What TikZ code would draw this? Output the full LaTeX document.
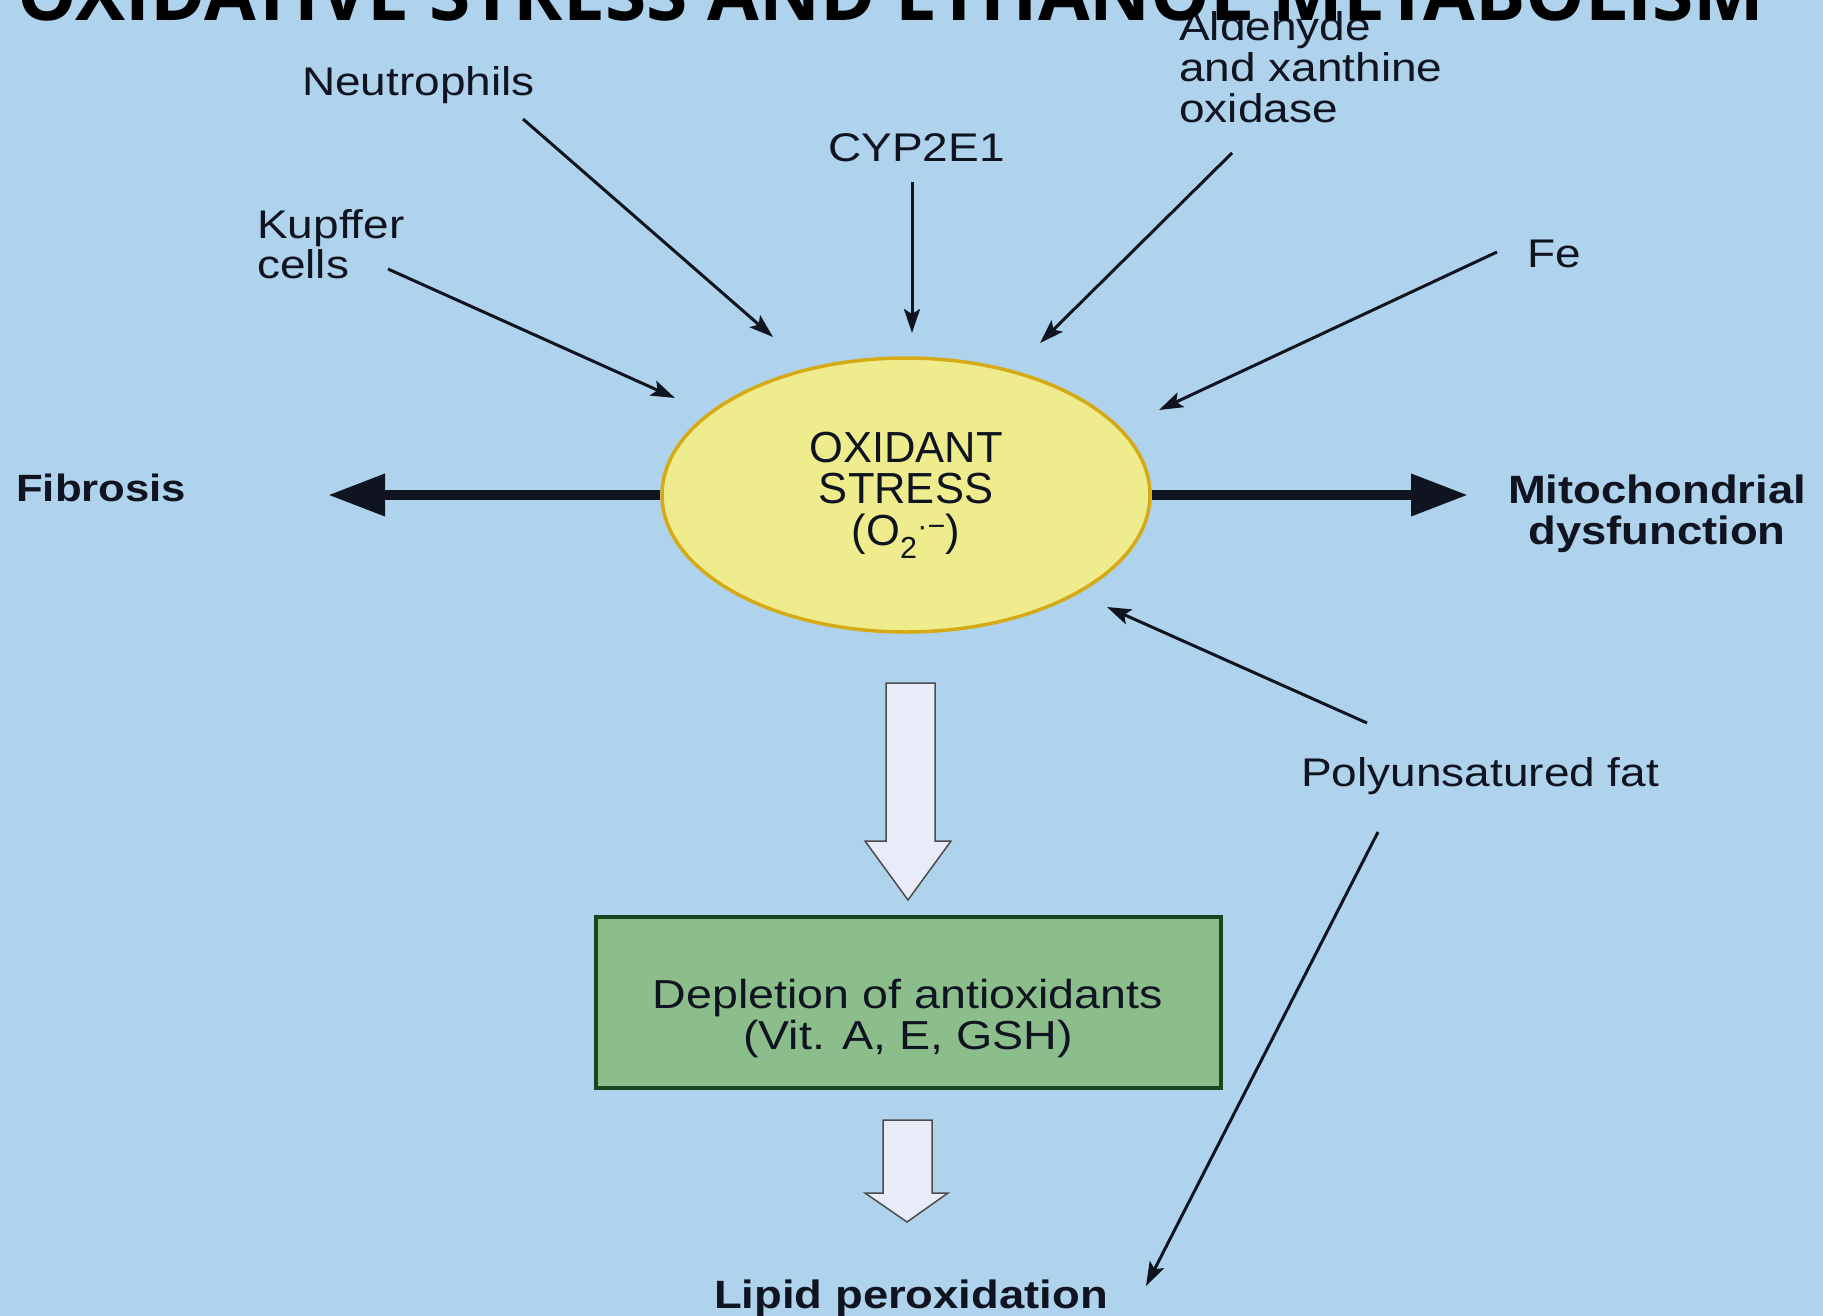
\documentclass[tikz,border=0pt]{standalone}
\usepackage{fontspec}
\setmainfont{Liberation Sans}
\newfontfamily\labfont[FakeStretch=1.15]{Liberation Sans}
\newfontfamily\titlefont{Open Sans}
\usetikzlibrary{arrows.meta,shapes.geometric}
\definecolor{bg}{RGB}{176,211,237}
\definecolor{ellfill}{RGB}{238,236,140}
\definecolor{elldraw}{RGB}{214,170,20}
\definecolor{boxfill}{RGB}{140,190,140}
\definecolor{boxdraw}{RGB}{25,70,30}
\definecolor{hollow}{RGB}{232,236,248}
\definecolor{ink}{RGB}{16,20,32}
\begin{document}
\begin{tikzpicture}[x=1pt,y=-1pt,
  lab/.style={inner sep=0pt, text=ink, font=\labfont\fontsize{40}{40}\selectfont},
  boldlab/.style={inner sep=0pt, text=ink, font=\labfont\bfseries\fontsize{39.5}{41}\selectfont},
  thinarrow/.style={draw=ink, line width=3pt, -{Stealth[length=24pt,width=16pt,inset=5pt]}},
  thickarrow/.style={draw=ink, line width=10pt, -{Triangle[length=57pt,width=40pt]}},
  hollowarrow/.style={fill=hollow, draw=black!70, line width=1.5pt, line join=miter},
]
\useasboundingbox (0,0) rectangle (1823,1316);
\clip (0,0) rectangle (1823,1316);
\fill[bg] (0,0) rectangle (1823,1316);

% central ellipse
\node[ellipse, draw=elldraw, fill=ellfill, line width=3.5pt, minimum width=488pt, minimum height=274pt,
      inner sep=0pt, align=center, text=ink, font=\fontsize{43.5}{41.5}\selectfont] (ox) at (906,495)
      {OXIDANT\\STRESS\\(O\textsubscript{2}\textsuperscript{·−})};

% labels
\node[lab, anchor=base west] (neut) at (302,96) {Neutrophils};
\node[lab, anchor=base west] (kup) at (257,238) {\begin{tabular}[t]{@{}l@{}}Kupffer\\cells\end{tabular}};
\node[lab, anchor=base west] (cyp) at (828,162) {CYP2E1};
\node[lab, anchor=base west] (ald) at (1179,41) {\begin{tabular}[t]{@{}l@{}}Aldehyde\\and xanthine\\oxidase\end{tabular}};
\node[lab, anchor=base west] (fe) at (1527,267) {Fe};
\node[lab, anchor=base west] (puf) at (1301,786) {Polyunsatured fat};
\node[boldlab, anchor=base west, font=\labfont\bfseries\fontsize{38}{41}\selectfont] (fib) at (16,501) {Fibrosis};
\node[boldlab, anchor=base] (mito) at (1657,503) {\begin{tabular}[t]{@{}c@{}}Mitochondrial\\dysfunction\end{tabular}};
\node[boldlab, anchor=base] (lipid) at (911,1308) {Lipid peroxidation};

% depletion box
\node[draw=boxdraw, fill=boxfill, line width=4pt, minimum width=625pt, minimum height=171pt, inner sep=0pt] (depl) at (908.5,1002.5) {};
\node[inner sep=0pt, text=ink, anchor=base, font=\labfont\fontsize{40.5}{40}\selectfont] (deplt) at (908,1008)
  {\begin{tabular}[t]{@{}c@{}}Depletion of antioxidants\\(Vit. A, E, GSH)\end{tabular}};

% hollow arrows
\draw[hollowarrow] (886,683) -- (935,683) -- (935,841) -- (951,841) -- (908,900) -- (865,841) -- (886,841) -- cycle;
\draw[hollowarrow] (883,1120) -- (932,1120) -- (932,1193) -- (948,1193) -- (907,1222) -- (865,1193) -- (883,1193) -- cycle;

% thick arrows
\coordinate (fibtip) at (328,495);
\coordinate (mitotip) at (1468,495);
\draw[thickarrow] (ox.west) -- (fibtip);
\draw[thickarrow] (ox.east) -- (mitotip);

% thin arrows
\coordinate (neutS) at (523,119);  \coordinate (neutT) at (773,337);
\coordinate (kupS) at (388,269);   \coordinate (kupT) at (675,398);
\coordinate (cypS) at (912,182);   \coordinate (cypT) at (912,333);
\coordinate (aldS) at (1232,153);  \coordinate (aldT) at (1040,343);
\coordinate (feS) at (1497,252);   \coordinate (feT) at (1159,410);
\coordinate (pufA) at (1367,723);  \coordinate (pufAT) at (1107,607);
\coordinate (pufB) at (1378,832);  \coordinate (pufBT) at (1146,1286);
\draw[thinarrow] (neutS) -- (neutT);
\draw[thinarrow] (kupS) -- (kupT);
\draw[thinarrow] (cypS) -- (cypT);
\draw[thinarrow] (aldS) -- (aldT);
\draw[thinarrow] (feS) -- (feT);
\draw[thinarrow] (pufA) -- (pufAT);
\draw[thinarrow] (pufB) -- (pufBT);

% title
\node[anchor=base west, inner sep=0pt, text=black, font=\titlefont\bfseries\fontsize{75}{75}\selectfont] (title) at (17,21)
  {OXIDATIVE STRESS AND ETHANOL METABOLISM};
\end{tikzpicture}
\end{document}
